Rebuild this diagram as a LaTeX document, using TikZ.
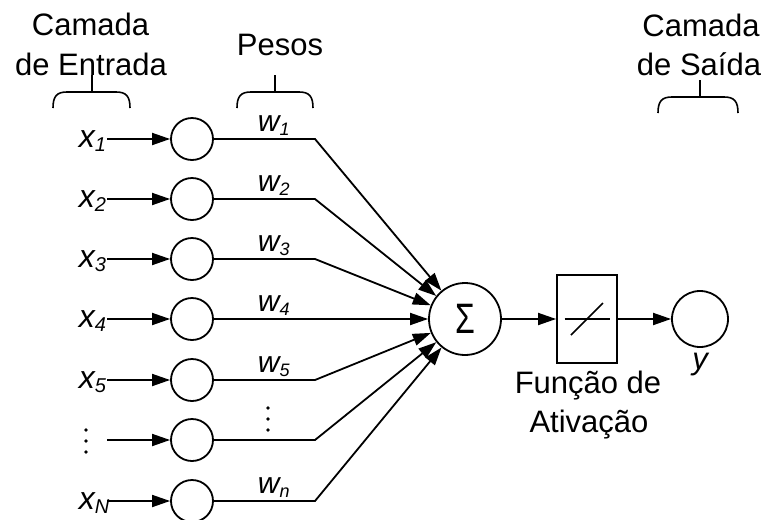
\documentclass[tikz,border=0pt]{standalone}
\usepackage{fontspec}
\setmainfont{Liberation Sans}
\usetikzlibrary{arrows.meta}
% italic symbol with a lowered subscript: #1 symbol, #2 index, #3 size, #4 index size
\newcommand\symlab[4]{{\fontsize{#3}{#3}\selectfont\itshape #1\raisebox{-4pt}{\fontsize{#4}{#4}\selectfont #2}}}
\begin{document}
\begin{tikzpicture}[x=1pt,y=-1pt,
  line width=1.8pt,
  arr/.style={-{Triangle[length=18pt,width=12pt]}},
  inp/.style={draw,circle,minimum size=42pt,inner sep=0pt},
  lbl/.style={font=\fontsize{31}{36}\selectfont,inner sep=0pt,anchor=base},
  vlab/.style={inner sep=0pt,anchor=base west},
  brace/.style={line width=1.6pt},
  dotmark/.style={fill,circle,inner sep=0pt,minimum size=3.6pt}
]
\useasboundingbox (0,0) rectangle (764,520);

% headings
\node[lbl] (tin1) at (90.5,35.7) {Camada};
\node[lbl] (tin2) at (91,75) {de Entrada};
\node[lbl] (tw) at (280,55) {Pesos};
\node[lbl] (tout1) at (701,36) {Camada};
\node[lbl] (tout2) at (699,75) {de Saída};

% braces under the headings
\draw[brace] (53,108) .. controls (53,96) and (57,92) .. (67,92) -- (116,92) .. controls (126,92) and (130,96) .. (130,108);
\draw[brace] (92,92) -- (92,75);
\draw[brace] (237,108) .. controls (237,96) and (241,92) .. (251,92) -- (299,92) .. controls (309,92) and (313,96) .. (313,108);
\draw[brace] (275,92) -- (275,75);
\draw[brace] (658,113) .. controls (658,101) and (662,97) .. (672,97) -- (724,97) .. controls (734,97) and (738,101) .. (738,113);
\draw[brace] (700,97) -- (700,80);

% summing junction, activation block, output
\node[draw,circle,minimum size=72pt,inner sep=0pt,font=\fontsize{32}{32}\selectfont] (sum) at (465,319) {\scalebox{1}[1.33]{Σ}};
\node[draw,minimum width=60pt,minimum height=88pt,inner sep=0pt] (act) at (587,319) {};
\draw[line width=1.6pt] ([xshift=-22.5pt]act.center) -- ([xshift=22.5pt]act.center);
\draw[line width=1.6pt] ([shift={(-16,16)}]act.center) -- ([shift={(16,-16)}]act.center);
\node[draw,circle,minimum size=56pt,inner sep=0pt] (out) at (700,319) {};
\draw[arr] (sum) -- (act);
\draw[arr] (act) -- (out);
\node[lbl,font=\fontsize{31}{31}\selectfont\itshape] (ylab) at (700,369) {y};
\node[lbl] (tf1) at (588,393) {Função de};
\node[lbl] (tf2) at (589,432) {Ativação};

% input neurons and weighted connections
\foreach \i/\yy in {1/139,2/199,3/259,4/319,5/380,6/440,7/501} {
  \node[inp] (n\i) at (192,\yy) {};
  \coordinate (s\i) at (107,\yy);
  \coordinate (b\i) at (315,\yy);
  \draw[arr] (s\i) -- (n\i);
  \draw[arr] (n\i) -- (b\i) -- (sum);
}

% input labels
\foreach \i/\yy/\k in {1/139/1,2/199/2,3/259/3,4/319/4,5/380/5,7/501/N}
  \node[vlab] (xl\i) at (78,\yy+8.5) {\symlab{x}{\k}{32}{20}};
% weight labels
\foreach \i/\yy/\k in {1/139/1,2/199/2,3/259/3,4/319/4,5/380/5,7/501/n}
  \node[vlab] (wl\i) at (257,\yy-7.5) {\symlab{w}{\k}{30}{18}};

% ellipsis marks
\foreach \yy in {430,441,452} \node[dotmark] at (86,\yy) {};
\foreach \yy in {408,419,430} \node[dotmark] at (268,\yy) {};
\end{tikzpicture}
\end{document}
